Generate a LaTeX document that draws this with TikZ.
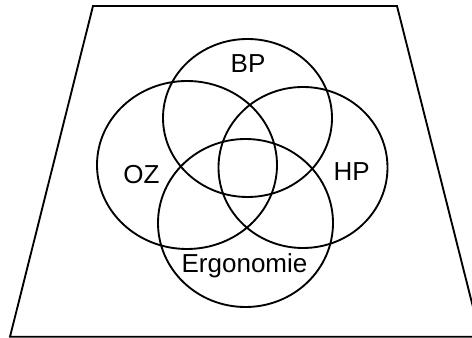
\documentclass[tikz,border=0pt]{standalone}
\usepackage{fontspec}
\setmainfont{Liberation Sans}
\usetikzlibrary{positioning}

\begin{document}
\begin{tikzpicture}[x=0.75pt, y=-0.75pt,
    ring/.style={draw, line width=1.4pt},
    lbl/.style={font=\fontsize{19.5}{23}\selectfont, anchor=base, inner sep=0pt}
  ]
    \useasboundingbox (0,0) rectangle (472,338);
    \clip (0,0) rectangle (472,338);
    % outer frame
    \draw[ring] (93,6) -- (397,6) -- (480.5,336.8) -- (10,336.8) -- cycle;
    % centres of the four sets
    \coordinate (cbp)  at (247.5,118);
    \coordinate (coz)  at (187,165);
    \coordinate (chp)  at (303,167.5);
    \coordinate (cerg) at (245.5,223);
    \draw[ring] (cbp)  ellipse [x radius=84.5, y radius=79];
    \draw[ring] (coz)  ellipse [x radius=90,   y radius=84];
    \draw[ring] (chp)  ellipse [x radius=84.5, y radius=80.5];
    \draw[ring] (cerg) ellipse [x radius=87.5, y radius=84];
    \node[lbl] (bp)  at (248,72.7)  {BP};
    \node[lbl] (oz)  at (141.5,183.3) {OZ};
    \node[lbl] (hp)  at (351.7,181) {HP};
    \node[lbl] (erg) at (244.5,273) {Ergonomie};
\end{tikzpicture}
\end{document}
